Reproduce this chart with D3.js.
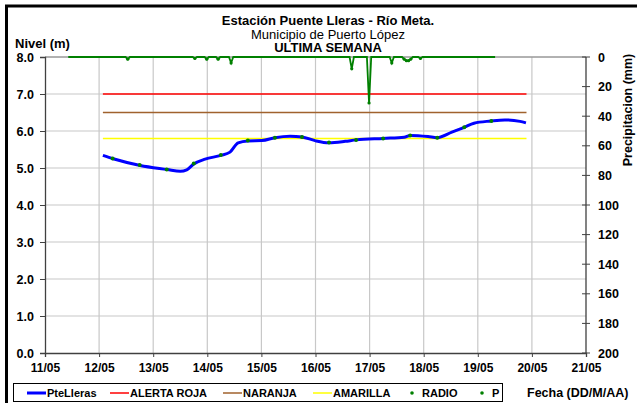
<!DOCTYPE html>
<html><head><meta charset="utf-8">
<script src="https://cdn.jsdelivr.net/npm/d3@7"></script>
<style>body{margin:0;background:#fff;overflow:hidden}svg{display:block;font-family:"Liberation Sans",Arial,sans-serif}</style>
</head><body><svg id="c" width="637" height="403"></svg>
<script>
// Nivel (m) series: day of May (fractional) and level
const levelDays = [12.07,12.26,12.76,13.26,13.50,13.62,13.75,13.96,14.25,14.42,14.57,14.75,15.01,15.25,15.53,15.75,15.99,16.25,16.55,16.75,17.25,17.64,17.75,18.08,18.25,18.52,18.75,18.93,19.24,19.50,19.78,19.89];
const levelVals = [5.34,5.25,5.07,4.96,4.91,4.95,5.11,5.24,5.34,5.43,5.68,5.73,5.74,5.82,5.86,5.84,5.74,5.68,5.72,5.76,5.80,5.83,5.88,5.85,5.82,5.97,6.10,6.21,6.27,6.30,6.26,6.22];
// RADIO readings
const radioDays = [12.25,12.75,13.25,13.75,14.25,14.75,15.25,15.75,16.25,16.75,17.25,17.75,18.25,18.75,19.25];
const radioVals = [5.26,5.08,4.96,5.12,5.35,5.74,5.82,5.84,5.69,5.76,5.80,5.88,5.82,6.10,6.27];
// Precipitation (mm)
const precipDays = [11.43,12.49,12.53,12.57,13.73,13.77,13.81,13.95,13.99,14.03,14.16,14.20,14.24,14.40,14.44,14.48,16.63,16.67,16.71,16.95,16.99,17.03,17.37,17.41,17.45,17.60,17.64,17.68,17.72,17.76,17.80,17.90,17.94,17.98,19.32];
const precipVals = [0,0,1.5,0,0,1,0,0,1.5,0,0,1.5,0,0,4,0,0,8,0,0,31,0,0,4,0,0,1.5,2.5,2.5,1.5,0,0,1,0,0];
// Alert thresholds
const alertNames = ["ALERTA ROJA","NARANJA","AMARILLA"];
const alertVals = [7.0,6.5,5.8];
const alertColors = ["#ff0000","#a0622d","#ffff00"];
const alertRange = [12.07,19.9];
// ticks
const xTicks = [11,12,13,14,15,16,17,18,19,20,21];
const xTickLabels = ["11/05","12/05","13/05","14/05","15/05","16/05","17/05","18/05","19/05","20/05","21/05"];
const yTicks = [0,1,2,3,4,5,6,7,8];
const pTicks = [0,20,40,60,80,100,120,140,160,180,200];

const svg = d3.select("#c");
const x = d3.scaleLinear().domain([11,21]).range([45,586]);
const y = d3.scaleLinear().domain([0,8]).range([353,57]);
const yP = d3.scaleLinear().domain([0,200]).range([57,353]);

// outer frame: left and top edges only
svg.append("path").attr("d","M6.5,403 L6.5,6 L637,6")
  .attr("fill","none").attr("stroke","#000").attr("stroke-width",3);

// gridlines
const g = svg.append("g");
g.selectAll(".vg").data(xTicks.slice(1,-1)).enter().append("line")
  .attr("x1",d=>x(d)).attr("x2",d=>x(d)).attr("y1",y(8)).attr("y2",y(0))
  .attr("stroke","#c8c8c8").attr("stroke-width",1.2);
g.selectAll(".hg").data(yTicks.slice(1)).enter().append("line")
  .attr("x1",x(11)).attr("x2",x(21)).attr("y1",d=>y(d)).attr("y2",d=>y(d))
  .attr("stroke","#c8c8c8").attr("stroke-width",1.2);
svg.append("line").attr("x1",x(11)).attr("x2",x(21)).attr("y1",y(8)).attr("y2",y(8)).attr("stroke","#808080").attr("stroke-width",1);

// left axis
const left = svg.append("g").attr("transform",`translate(${x(11)},0)`)
  .call(d3.axisLeft(y).tickValues(yTicks).tickFormat(d3.format(".1f")).tickSize(5).tickPadding(6));
left.select(".domain").attr("stroke","#404040").attr("stroke-width",1.3);
left.selectAll(".tick line").attr("stroke","#404040");
left.selectAll("text").attr("font-size",12.5).attr("font-weight","bold").attr("fill","#000").attr("font-family","Liberation Sans, Arial");

// bottom axis
const bottom = svg.append("g").attr("transform",`translate(0,${y(0)})`)
  .call(d3.axisBottom(x).tickValues(xTicks).tickFormat((d,i)=>xTickLabels[i]).tickSize(4).tickPadding(6));
bottom.select(".domain").attr("stroke","#404040").attr("stroke-width",1.3);
bottom.selectAll(".tick line").attr("stroke","#404040");
bottom.selectAll("text").attr("font-size",12).attr("font-weight","bold").attr("fill","#000").attr("font-family","Liberation Sans, Arial");

// right axis (cross ticks)
const right = svg.append("g");
right.append("line").attr("x1",x(21)).attr("x2",x(21)).attr("y1",yP(0)).attr("y2",yP(200)).attr("stroke","#404040").attr("stroke-width",1.3);
right.selectAll(".rt").data(pTicks).enter().append("line")
  .attr("x1",x(21)-4).attr("x2",x(21)+4).attr("y1",d=>yP(d)).attr("y2",d=>yP(d)).attr("stroke","#404040");
right.selectAll(".rl").data(pTicks).enter().append("text")
  .attr("x",x(21)+12).attr("y",d=>yP(d)+4.5).text(d=>d)
  .attr("font-size",12.5).attr("font-weight","bold");

// alert lines
alertVals.forEach((v,i)=>{
  svg.append("line").attr("x1",x(alertRange[0])).attr("x2",x(alertRange[1]))
    .attr("y1",y(v)).attr("y2",y(v)).attr("stroke",alertColors[i]).attr("stroke-width",1.5);
});

// precipitation line
const pData = precipDays.map((d,i)=>[d,precipVals[i]]);
svg.append("path").datum(pData)
  .attr("d",d3.line().x(d=>x(d[0])).y(d=>yP(d[1])))
  .attr("fill","none").attr("stroke","#008000").attr("stroke-width",1.8);
svg.selectAll(".pm").data(pData.filter(d=>d[1]>0)).enter().append("circle")
  .attr("cx",d=>x(d[0])).attr("cy",d=>yP(d[1])).attr("r",1.6).attr("fill","#008000");

// level line
const lData = levelDays.map((d,i)=>[d,levelVals[i]]);
svg.append("path").datum(lData)
  .attr("d",d3.line().x(d=>x(d[0])).y(d=>y(d[1])).curve(d3.curveMonotoneX))
  .attr("fill","none").attr("stroke","#0000ff").attr("stroke-width",3);

// radio points
svg.selectAll(".rp").data(radioDays.map((d,i)=>[d,radioVals[i]])).enter().append("circle")
  .attr("cx",d=>x(d[0])).attr("cy",d=>y(d[1])).attr("r",2).attr("fill","#008000");

// titles
const tx = 328;
svg.append("text").attr("x",tx).attr("y",25).attr("text-anchor","middle").attr("font-size",13).attr("font-weight","bold").text("Estación Puente Lleras - Río Meta.");
svg.append("text").attr("x",tx).attr("y",38.5).attr("text-anchor","middle").attr("font-size",13).text("Municipio de Puerto López");
svg.append("text").attr("x",tx).attr("y",52).attr("text-anchor","middle").attr("font-size",13).attr("font-weight","bold").text("ULTIMA SEMANA");
svg.append("text").attr("x",15).attr("y",47.5).attr("font-size",13).attr("font-weight","bold").text("Nivel (m)");
svg.append("text").attr("transform","translate(632,110) rotate(-90)").attr("text-anchor","middle").attr("font-size",12.5).attr("font-weight","bold").text("Precipitacion (mm)");
svg.append("text").attr("x",527).attr("y",396.5).attr("font-size",12.5).attr("font-weight","bold").text("Fecha (DD/M/AA)");

// legend
svg.append("rect").attr("x",13.5).attr("y",383.5).attr("width",489).attr("height",18).attr("fill","#fff").attr("stroke","#000");
const legLines = [{n:"PteLleras",c:"#0000ff",x0:27,w:3},{n:alertNames[0],c:alertColors[0],x0:110,w:1.5},{n:alertNames[1],c:alertColors[1],x0:223,w:1.5},{n:alertNames[2],c:alertColors[2],x0:313,w:1.5}];
legLines.forEach(l=>{
  svg.append("line").attr("x1",l.x0).attr("x2",l.x0+19).attr("y1",393).attr("y2",393).attr("stroke",l.c).attr("stroke-width",l.w);
  svg.append("text").attr("x",l.x0+20).attr("y",397).attr("font-size",11).attr("font-weight","bold").text(l.n);
});
[{n:"RADIO",x0:412},{n:"P",x0:482}].forEach(l=>{
  svg.append("circle").attr("cx",l.x0).attr("cy",393).attr("r",1.8).attr("fill","#008000");
  svg.append("text").attr("x",l.x0+10).attr("y",397).attr("font-size",11).attr("font-weight","bold").text(l.n);
});
</script></body></html>
